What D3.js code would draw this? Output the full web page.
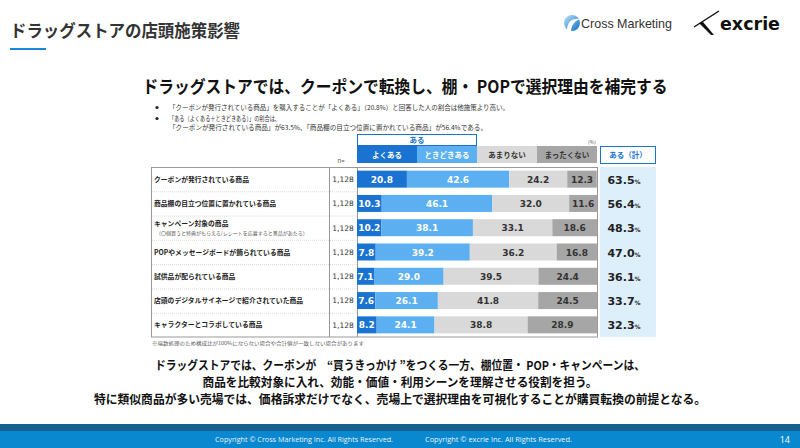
<!DOCTYPE html>
<html>
<head>
<meta charset="utf-8">
<script src="https://cdn.jsdelivr.net/npm/d3@7"></script>
<style>
  body { margin: 0; background: #fff; }
  svg { display: block; font-family: "Noto Sans CJK JP", "Noto Sans", sans-serif; }
</style>
</head>
<body>
<div id="chart"></div>
<script>
// --- data ---
const categories = [
    "クーポンが発行されている商品",
    "商品棚の目立つ位置に置かれている商品",
    "キャンペーン対象の商品",
    "POPやメッセージボードが飾られている商品",
    "試供品が配られている商品",
    "店頭のデジタルサイネージで紹介されていた商品",
    "キャラクターとコラボしている商品"
];
const subLabels = ["", "", "（〇個買うと特典がもらえる/レシートを応募すると景品があたる）", "", "", "", ""];
const sampleN = ["1,128", "1,128", "1,128", "1,128", "1,128", "1,128", "1,128"];
const answerKeys = ["よくある", "ときどきある", "あまりない", "まったくない"];
const often = [20.8, 10.3, 10.2, 7.8, 7.1, 7.6, 8.2];
const sometimes = [42.6, 46.1, 38.1, 39.2, 29.0, 26.1, 24.1];
const rarely = [24.2, 32.0, 33.1, 36.2, 39.5, 41.8, 38.8];
const never = [12.3, 11.6, 18.6, 16.8, 24.4, 24.5, 28.9];
const totalYes = [63.5, 56.4, 48.3, 47.0, 36.1, 33.7, 32.3];

const W = 800, H = 448;
const colors = ["#1a73d0", "#5cb0f2", "#d9d9d9", "#a6a6a6"];
const textColors = ["#fff", "#fff", "#333", "#333"];

const rows = categories.map((c, i) => ({
    cat: c, sub: subLabels[i], n: sampleN[i], total: totalYes[i],
    "よくある": often[i], "ときどきある": sometimes[i], "あまりない": rarely[i], "まったくない": never[i]
}));

const svg = d3.select("#chart").append("svg")
    .attr("width", W).attr("height", H);

// --- page header ---
svg.append("text")
    .attr("x", 10).attr("y", 37)
    .attr("font-size", 17).attr("font-weight", "bold").attr("fill", "#333")
    .attr("textLength", 230).attr("lengthAdjust", "spacingAndGlyphs")
    .text("ドラッグストアの店頭施策影響");
svg.append("rect").attr("x", 10).attr("y", 48).attr("width", 36).attr("height", 2).attr("fill", "#1a88d6");

// Cross Marketing logo (approximation)
const cm = svg.append("g").attr("transform", "translate(572,23)");
const grad = svg.append("defs").append("linearGradient").attr("id", "cmg")
    .attr("x1", 0).attr("y1", 0).attr("x2", 1).attr("y2", 1);
grad.append("stop").attr("offset", 0).attr("stop-color", "#bfe3fb");
grad.append("stop").attr("offset", 1).attr("stop-color", "#0a6fc2");
cm.append("circle").attr("r", 8).attr("fill", "url(#cmg)");
cm.append("path").attr("d", "M-5,8 C-5,-1 0,-5 8,-4 C2,-2 -1,3 -1,9 Z").attr("fill", "#fff");
svg.append("text").attr("x", 581).attr("y", 28)
    .attr("font-family", "'Liberation Sans Narrow', 'Liberation Sans', sans-serif").attr("font-size", 13).attr("fill", "#333")
    .attr("textLength", 91).attr("lengthAdjust", "spacingAndGlyphs")
    .text("Cross Marketing");

// excrie logo (approximation)
svg.append("line").attr("x1", 719).attr("y1", 11).attr("x2", 694).attr("y2", 27)
    .attr("stroke", "#111").attr("stroke-width", 1.4);
svg.append("path").attr("d", "M699,23 L703,22 L714,35 L711,35 Z").attr("fill", "#111");
svg.append("text").attr("x", 720).attr("y", 30)
    .attr("font-family", "'DejaVu Sans', sans-serif").attr("font-size", 17).attr("font-weight", "bold").attr("fill", "#111")
    .attr("textLength", 60).attr("lengthAdjust", "spacingAndGlyphs")
    .text("excrie");

// --- headline ---
svg.append("text")
    .attr("x", 405).attr("y", 93).attr("text-anchor", "middle")
    .attr("font-size", 17.5).attr("font-weight", "bold").attr("fill", "#111")
    .attr("textLength", 525).attr("lengthAdjust", "spacingAndGlyphs")
    .text("ドラッグストアでは、クーポンで転換し、棚・ POPで選択理由を補完する");

// --- bullets ---
const bullets = [
    { y: 110, dot: true, t: "「クーポンが発行されている商品」を購入することが「よくある」（20.8%）と回答した人の割合は他施策より高い。", w: 340 },
    { y: 121, dot: true, t: "「ある（よくある＋ときどきある）」の割合は、", w: 111 },
    { y: 130, dot: false, t: "「クーポンが発行されている商品」が63.5%、「商品棚の目立つ位置に置かれている商品」が56.4%である。", w: 318 }
];
bullets.forEach(b => {
    if (b.dot) svg.append("circle").attr("cx", 157).attr("cy", b.y - 2.5).attr("r", 1.6).attr("fill", "#222");
    svg.append("text").attr("x", 169).attr("y", b.y)
        .attr("font-size", 6.5).attr("fill", "#333")
        .attr("textLength", b.w).attr("lengthAdjust", "spacingAndGlyphs")
        .text(b.t);
});

// --- chart scales ---
const x = d3.scaleLinear().domain([0, 100]).range([357, 597]);
const y = d3.scaleBand().domain(categories).range([167, 337]).paddingInner(0.3).paddingOuter(0.15);
const rowY = d3.scaleBand().domain(categories).range([167, 337]);
const headX = d3.scaleBand().domain(answerKeys).range([357, 597]);

// total column background
svg.append("rect").attr("x", 600).attr("y", 167).attr("width", 56).attr("height", 170).attr("fill", "#deeffc");

// header
svg.append("rect").attr("x", 357.5).attr("y", 134.5).attr("width", 119).attr("height", 11)
    .attr("fill", "#fff").attr("stroke", "#1a73d0");
svg.append("text").attr("x", 417).attr("y", 143).attr("text-anchor", "middle")
    .attr("font-size", 7.5).attr("font-weight", "bold").attr("fill", "#1a73d0").text("ある");
svg.append("text").attr("x", 596).attr("y", 144).attr("text-anchor", "end")
    .attr("font-size", 5).attr("fill", "#555").text("(%)");

const head = svg.append("g").selectAll("g").data(answerKeys).join("g");
head.append("rect")
    .attr("x", d => headX(d)).attr("y", 146).attr("width", headX.bandwidth()).attr("height", 17)
    .attr("fill", (d, i) => colors[i]);
head.append("text")
    .attr("x", d => headX(d) + headX.bandwidth() / 2).attr("y", 157.5).attr("text-anchor", "middle")
    .attr("font-size", 7.5).attr("font-weight", "bold")
    .attr("fill", (d, i) => textColors[i])
    .text(d => d);

svg.append("rect").attr("x", 600.5).attr("y", 146.5).attr("width", 55).attr("height", 17)
    .attr("fill", "#fff").attr("stroke", "#1a73d0");
svg.append("text").attr("x", 628).attr("y", 158).attr("text-anchor", "middle")
    .attr("font-size", 7.5).attr("font-weight", "bold").attr("fill", "#1a73d0").text("ある（計）");

svg.append("text").attr("x", 341).attr("y", 163).attr("text-anchor", "middle")
    .attr("font-size", 6).attr("fill", "#555").text("n=");

// row separators and frame
svg.append("g").selectAll("line").data(categories.slice(1)).join("line")
    .attr("x1", 152).attr("x2", 357)
    .attr("y1", d => rowY(d) + 0.5).attr("y2", d => rowY(d) + 0.5)
    .attr("stroke", "#ddd").attr("stroke-dasharray", "1,1");
const frame = svg.append("g").attr("stroke", "#999").attr("fill", "none");
frame.append("rect").attr("x", 151.5).attr("y", 167.5).attr("width", 446).attr("height", 169.5);
frame.append("line").attr("x1", 329.5).attr("x2", 329.5).attr("y1", 167).attr("y2", 337);
frame.append("line").attr("x1", 357.5).attr("x2", 357.5).attr("y1", 167).attr("y2", 337);

// labels
const lab = svg.append("g").selectAll("g").data(rows).join("g");
lab.append("text")
    .attr("x", 154)
    .attr("y", d => rowY(d.cat) + rowY.bandwidth() / 2 + (d.sub ? -1.5 : 2.5))
    .attr("font-size", 6.8).attr("font-weight", "bold").attr("fill", "#222")
    .text(d => d.cat);
lab.filter(d => d.sub).append("text")
    .attr("x", 156)
    .attr("y", d => rowY(d.cat) + rowY.bandwidth() / 2 + 7.5)
    .attr("font-size", 5).attr("fill", "#555")
    .text(d => d.sub);
lab.append("text")
    .attr("x", 343).attr("y", d => rowY(d.cat) + rowY.bandwidth() / 2 + 2.8)
    .attr("text-anchor", "middle").attr("font-size", 7.5).attr("fill", "#333")
    .attr("font-family", "'DejaVu Sans', sans-serif")
    .text(d => d.n);

// stacked bars
const series = d3.stack().keys(answerKeys)(rows);
const seg = svg.append("g").selectAll("g").data(series).join("g")
    .attr("fill", (d, i) => colors[i]);
seg.selectAll("rect").data(d => d).join("rect")
    .attr("x", d => x(d[0]))
    .attr("y", d => y(d.data.cat))
    .attr("width", d => x(d[1]) - x(d[0]))
    .attr("height", y.bandwidth());
seg.selectAll("text").data((d, i) => d.map(v => ({ v, i, key: d.key }))).join("text")
    .attr("x", d => (x(d.v[0]) + x(d.v[1])) / 2)
    .attr("y", d => y(d.v.data.cat) + y.bandwidth() / 2 + 3.5)
    .attr("text-anchor", "middle")
    .attr("font-family", "'DejaVu Sans', sans-serif")
    .attr("font-size", 9).attr("font-weight", "bold")
    .attr("fill", d => textColors[d.i])
    .text(d => d.v.data[d.key].toFixed(1));

// totals
const tot = svg.append("g").selectAll("text").data(rows).join("text")
    .attr("x", 624).attr("y", d => y(d.cat) + y.bandwidth() / 2 + 4.5)
    .attr("text-anchor", "middle")
    .attr("font-family", "'DejaVu Sans', sans-serif")
    .attr("font-weight", "bold").attr("fill", "#222");
tot.append("tspan").attr("font-size", 11).text(d => d.total.toFixed(1));
tot.append("tspan").attr("font-size", 6).text("%");

// footnote
svg.append("text").attr("x", 152).attr("y", 345)
    .attr("font-size", 4.8).attr("fill", "#555")
    .attr("textLength", 212).attr("lengthAdjust", "spacingAndGlyphs")
    .text("※端数処理のため構成比が100%にならない場合や合計値が一致しない場合があります");

// summary
const summary = [
    { y: 370, w: 490, t: "ドラッグストアでは、クーポンが　“買うきっかけ ”をつくる一方、棚位置・ POP・キャンペーンは、" },
    { y: 387, w: 395, t: "商品を比較対象に入れ、効能・価値・利用シーンを理解させる役割を担う。" },
    { y: 404, w: 612, t: "特に類似商品が多い売場では、価格訴求だけでなく、売場上で選択理由を可視化することが購買転換の前提となる。" }
];
summary.forEach(s => {
    svg.append("text").attr("x", 400).attr("y", s.y).attr("text-anchor", "middle")
        .attr("font-size", 12).attr("font-weight", "bold").attr("fill", "#111")
        .attr("textLength", s.w).attr("lengthAdjust", "spacingAndGlyphs")
        .text(s.t);
});

// footer
svg.append("rect").attr("x", 0).attr("y", 424).attr("width", W).attr("height", 7).attr("fill", "#175f8c");
svg.append("rect").attr("x", 0).attr("y", 431).attr("width", W).attr("height", 17).attr("fill", "#0987cf");
svg.append("text").attr("x", 215).attr("y", 442)
    .attr("font-family", "'Open Sans', sans-serif").attr("font-size", 7).attr("fill", "#e8f4fc")
    .attr("textLength", 178).attr("lengthAdjust", "spacingAndGlyphs")
    .text("Copyright © Cross Marketing Inc. All Rights Reserved.");
svg.append("text").attr("x", 425).attr("y", 442)
    .attr("font-family", "'Open Sans', sans-serif").attr("font-size", 7).attr("fill", "#e8f4fc")
    .attr("textLength", 147).attr("lengthAdjust", "spacingAndGlyphs")
    .text("Copyright © excrie Inc. All Rights Reserved.");
svg.append("text").attr("x", 790).attr("y", 443).attr("text-anchor", "end")
    .attr("font-family", "'Open Sans', sans-serif").attr("font-size", 9).attr("fill", "#fff")
    .text("14");
</script>
</body>
</html>
